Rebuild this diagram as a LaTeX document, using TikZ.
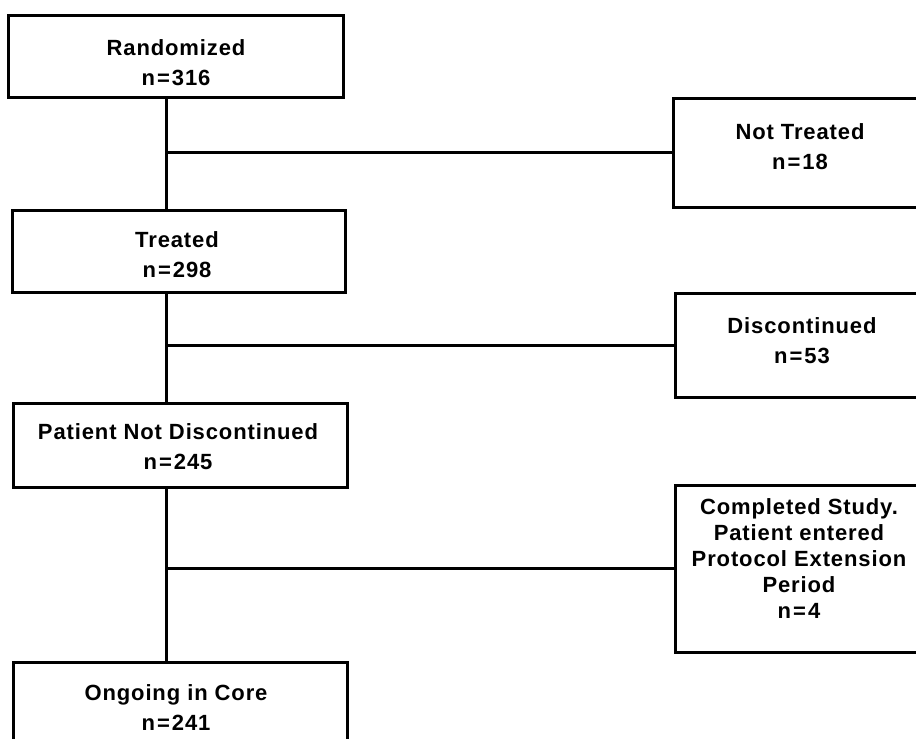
\documentclass[tikz,border=0pt]{standalone}
\usepackage{fontspec}
\setmainfont{Liberation Sans}[LetterSpace=4]
\newcommand{\eqs}{\kern2pt=\kern2pt}
\begin{document}
\begin{tikzpicture}[x=1pt,y=-1pt,
  box/.style={draw, line width=3pt, anchor=north west, inner sep=0pt, outer sep=0pt},
  lab/.style={anchor=base, align=center, inner sep=0pt, font=\bfseries\fontsize{22}{30}\selectfont},
  labr/.style={lab, font=\bfseries\fontsize{22}{26}\selectfont},
  conn/.style={line width=3pt}]
\useasboundingbox (0,0) rectangle (916,739);
\clip (0,0) rectangle (916,739);
% left column boxes
\node[box, minimum width=335pt, minimum height=82pt] (rand) at (8,15) {};
\node[box, minimum width=333pt, minimum height=82pt] (treat) at (12,210) {};
\node[box, minimum width=334pt, minimum height=84pt] (pnd) at (13,403) {};
\node[box, minimum width=334pt, minimum height=84pt] (core) at (13,662) {};
% right column boxes
\node[box, minimum width=260pt, minimum height=109pt] (nt) at (673,98) {};
\node[box, minimum width=258pt, minimum height=104pt] (disc) at (675,293) {};
\node[box, minimum width=258pt, minimum height=167pt] (comp) at (675,485) {};
% texts (anchor = baseline of last line)
\node[lab] (trand) at (176,85) {Randomized\\n\eqs316};
\node[lab] (ttreat) at (177,277) {Treated\\n\eqs298};
\node[lab] (tpnd) at (178,469) {Patient Not Discontinued\\n\eqs245};
\node[lab] (tcore) at (176,730) {Ongoing in Core\\n\eqs241};
\node[lab] (tnt) at (800,169) {Not Treated\\n\eqs18};
\node[lab] (tdisc) at (802,363) {Discontinued\\n\eqs53};
\node[labr] (tcomp) at (799,618) {Completed Study.\\Patient entered\\Protocol Extension\\Period\\n\eqs4};
% spine
\coordinate (spine) at (166,0);
\draw[conn] (rand.south -| spine) -- (treat.north -| spine);
\draw[conn] (treat.south -| spine) -- (pnd.north -| spine);
\draw[conn] (pnd.south -| spine) -- (core.north -| spine);
% branches
\draw[conn] (spine |- nt.west) -- (nt.west);
\draw[conn] (spine |- disc.west) -- (disc.west);
\draw[conn] (spine |- comp.west) -- (comp.west);
\end{tikzpicture}
\end{document}
